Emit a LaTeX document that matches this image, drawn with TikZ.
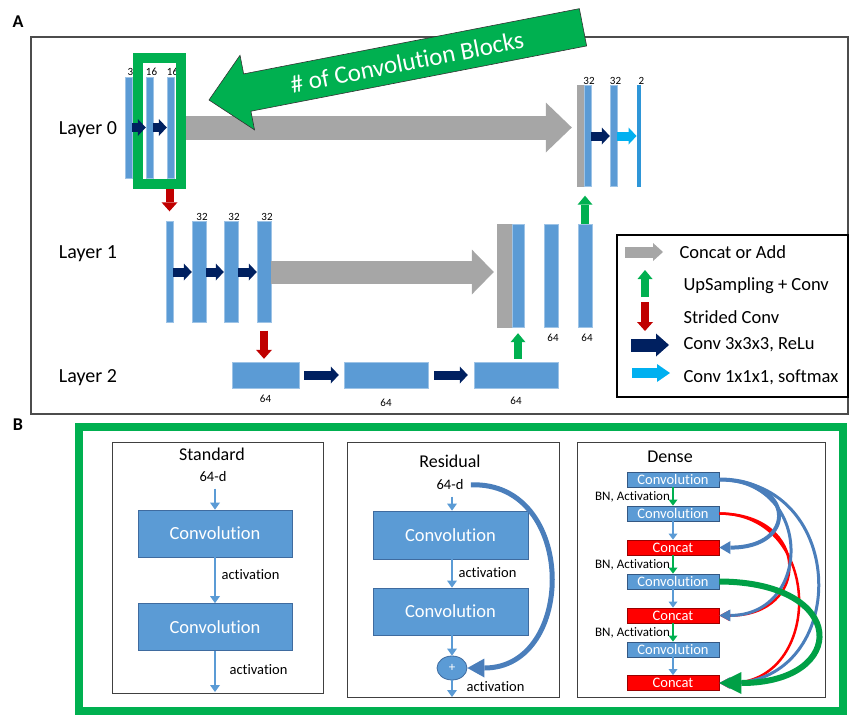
\documentclass[tikz,border=0pt]{standalone}
\usepackage{fontspec}
\setmainfont{Carlito}[Ligatures=NoCommon]
\usetikzlibrary{arrows.meta,shapes.geometric}

\definecolor{barblue}{HTML}{5B9BD5}
\definecolor{navy}{HTML}{002060}
\definecolor{skyarr}{HTML}{00B0F0}
\definecolor{catgray}{HTML}{A6A6A6}
\definecolor{upgreen}{HTML}{00B050}
\definecolor{downred}{HTML}{C00000}
\definecolor{catred}{HTML}{FF0000}
\definecolor{steel}{HTML}{4A7EBB}
\definecolor{outbar}{HTML}{2E96D8}
\definecolor{skipgreen}{HTML}{00A046}

\begin{document}
\begin{tikzpicture}[x=1pt,y=-1pt,
    blockarrow/.style n args={3}{line width=#1,-{Triangle[length=#2,width=#3,line width=0pt]}},
    bar/.style={fill=barblue,draw=barblue!60!white,line width=0.4pt,inner sep=0pt,minimum width=7pt,minimum height=101pt},
    catbar/.style={bar,fill=catgray,draw=catgray},
    num/.style={font=\fontsize{11}{12}\selectfont,inner sep=1pt},
    layer/.style={font=\fontsize{20}{23}\selectfont},
    panellab/.style={font=\bfseries\fontsize{18}{20}\selectfont},
    conv/.style={draw=navy,blockarrow={9pt}{8pt}{17pt}},
    soft/.style={draw=skyarr,blockarrow={9pt}{8pt}{17pt}},
    upconv/.style={draw=upgreen,blockarrow={8pt}{9pt}{15pt}},
    strided/.style={draw=downred,blockarrow={8pt}{9pt}{16pt}},
    legtext/.style={anchor=west,font=\fontsize{18.5}{21}\selectfont},
    blockbox/.style={draw=black!75,line width=1pt,inner sep=0pt},
    ttl/.style={font=\fontsize{18}{21}\selectfont},
    dimtxt/.style={font=\fontsize{14.5}{17}\selectfont},
    acttxt/.style={font=\fontsize{14.5}{17}\selectfont},
    convbig/.style={fill=barblue,draw=steel!85!black,line width=0.8pt,text=white,font=\fontsize{18.5}{21}\selectfont,inner sep=0pt,minimum width=155pt,minimum height=47pt},
    flow/.style={draw=barblue,blockarrow={2.5pt}{7pt}{10pt}},
    dconv/.style={fill=barblue,draw=steel!70!black,line width=0.8pt,text=white,font=\fontsize{14.5}{15}\selectfont,inner sep=0pt,minimum width=92pt,minimum height=15pt},
    dcat/.style={dconv,fill=catred,draw=downred!80!black},
    bntxt/.style={font=\fontsize{13}{15}\selectfont,inner sep=2pt},
    dflow/.style={draw=barblue,blockarrow={2.2pt}{6pt}{9pt}},
    dbn/.style={draw=upgreen,blockarrow={2.2pt}{6pt}{9pt}}
  ]
\useasboundingbox (0,0) rectangle (849,715);

% ---------------- A ----------------
\node[panellab] (labA) at (18,22) {A};
\draw[black!70,line width=1.2pt] (31,37) rectangle (848,414);

\node[layer] (lay0) at (88,130) {Layer 0};
\node[layer] (lay1) at (88,254) {Layer 1};
\node[layer] (lay2) at (88,378) {Layer 2};

% layer 0
\node[bar,label={[num,xshift=2pt]above:3}] (e0a) at (128.5,127.5) {};
\node[bar,label={[num,xshift=2pt]above:16}] (e0b) at (149.5,127.5) {};
\node[bar,label={[num,xshift=2pt]above:16}] (e0c) at (170.5,127.5) {};
\node[catbar] (d0g) at (580.5,136) {};
\node[bar,label={[num,xshift=1.5pt]above:32}] (d0a) at (587.5,136) {};
\node[bar,label={[num,xshift=2pt]above:32}] (d0b) at (613.5,136) {};
\node[bar,fill=outbar,draw=outbar,minimum width=3.5pt,label={[num,xshift=3pt]above:2}] (d0c) at (638.5,136) {};

% layer 1
\node[bar] (e1a) at (169.5,272) {};
\node[bar,minimum width=14pt,label={[num,xshift=3pt]above:32}] (e1b) at (199,272) {};
\node[bar,minimum width=14pt,label={[num,xshift=3pt]above:32}] (e1c) at (231,272) {};
\node[bar,minimum width=14pt,label={[num,xshift=3pt]above:32}] (e1d) at (264,272) {};
\node[catbar,minimum width=15pt,minimum height=103pt] (d1g) at (504.5,275.5) {};
\node[bar,minimum width=12pt,minimum height=103pt] (d1a) at (518,275.5) {};
\node[bar,minimum width=14pt,minimum height=103pt,label={[num,yshift=-6pt,xshift=2pt]below:64}] (d1b) at (551,275.5) {};
\node[bar,minimum width=14pt,minimum height=103pt,label={[num,yshift=-6pt,xshift=2pt]below:64}] (d1c) at (585,275.5) {};

% layer 2
\node[bar,minimum width=67pt,minimum height=26pt,label={[num,yshift=-6pt]below:64}] (e2a) at (265.5,375) {};
\node[bar,minimum width=84pt,minimum height=26pt,label={[num,yshift=-10pt]below:64}] (m2) at (386,375) {};
\node[bar,minimum width=84pt,minimum height=26pt,label={[num,yshift=-8pt]below:64}] (d2) at (516,375) {};

% arrows
\draw[conv] (d0a) -- (d0b);
\draw[soft] (d0b) -- (d0c);
\draw[conv] (e1a) -- (e1b);
\draw[conv] (e1b) -- (e1c);
\draw[conv] (e1c) -- (e1d);
\draw[conv,shorten <=5pt,shorten >=5pt] (e2a) -- (m2);
\draw[conv,shorten <=6pt,shorten >=6pt] (m2) -- (d2);

\node[minimum width=43pt,minimum height=126pt] (nblocks) at (159.5,121) {};
\draw[draw=catgray,blockarrow={24pt}{26pt}{50pt},shorten <=4pt,shorten >=5pt] (nblocks.east |- e0c.east) -- (d0g.west |- e0c.east);
\draw[draw=catgray,blockarrow={23pt}{22pt}{45pt},shorten >=3pt] (e1d.east) -- (e1d.east -| d1g.west);
\draw[strided,shorten >=10pt] (nblocks.south -| e1a.north) -- (e1a.north);
\draw[strided,shorten <=8pt,shorten >=3pt] (e1d.south) -- (e1d.south |- e2a.north);
\draw[upconv,shorten >=9pt] (d1c.north) -- (d1c.north |- d0a.south);
\draw[upconv,shorten <=3pt,shorten >=6pt] (d1a.south |- d2.north) -- (d1a.south);

% block highlight
\node[draw=upgreen,line width=10pt,minimum width=43pt,minimum height=126pt] (nframe) at (159.5,121) {};
\draw[conv] (e0a) -- (e0b);
\draw[conv] (e0b) -- (e0c);

% legend
\node[draw=black,line width=1.5pt,minimum width=231pt,minimum height=162pt] (legend) at (732.5,316) {};
\draw[draw=catgray,blockarrow={11pt}{10pt}{18pt}] (625,252) -- (663,252);
\node[legtext] (lg1) at (676,252) {Concat or Add};
\draw[upconv] (645,297) -- (645,270);
\node[legtext] (lg2) at (680,286) {UpSampling + Conv};
\draw[strided] (645,302) -- (645,331);
\node[legtext] (lg3) at (680,317) {Strided Conv};
\draw[draw=navy,blockarrow={13pt}{13pt}{23pt}] (631,345) -- (669,345);
\node[legtext] (lg4) at (680,345) {Conv 3x3x3, ReLu};
\draw[draw=skyarr,blockarrow={10pt}{13pt}{18pt}] (632,373) -- (670,373);
\node[legtext] (lg5) at (680,377) {Conv 1x1x1, softmax};

% number of blocks
\begin{scope}[shift={(209,100)},rotate=11]
  \filldraw[fill=upgreen,draw=black!80,line width=0.6pt] (0,0) -- (39,-38) -- (39,-19) -- (381,-19) -- (381,19) -- (39,19) -- (39,38) -- cycle;
\end{scope}
\node[text=white,font=\fontsize{25}{28}\selectfont,rotate=11] (nblk) at (407,62) {\# of Convolution Blocks};

% ---------------- B ----------------
\node[panellab] (labB) at (18,425) {B};
\node[draw=upgreen,line width=8pt,minimum width=764pt,minimum height=284pt] (panelB) at (461,569) {};

% standard
\node[blockbox,minimum width=211pt,minimum height=251pt] (std) at (217.5,567.5) {};
\node[ttl] (stdT) at (212,454) {Standard};
\node[dimtxt] (stdD) at (213,477) {64-d};
\node[convbig,minimum width=154pt] (stdC1) at (215,533.5) {Convolution};
\node[convbig,minimum width=154pt] (stdC2) at (215,627) {Convolution};
\coordinate (stdOut) at (215,692);
\draw[flow,shorten <=3pt] (stdD.south -| stdC1.north) -- (stdC1.north);
\draw[flow] (stdC1) -- node[acttxt,right,pos=0.37,xshift=2pt] {activation} (stdC2);
\draw[flow] (stdC2) -- node[acttxt,right,pos=0.46,xshift=10pt] {activation} (stdOut);

% residual
\node[blockbox,minimum width=212pt,minimum height=255pt] (res) at (453,569.5) {};
\node[ttl] (resT) at (450,461) {Residual};
\node[dimtxt] (resD) at (450,485) {64-d};
\node[convbig,minimum height=48pt] (resC1) at (450.5,535) {Convolution};
\node[convbig] (resC2) at (450.5,611.5) {Convolution};
\node[ellipse,fill=barblue,draw=steel!85!black,line width=0.8pt,minimum width=30pt,minimum height=24pt,inner sep=0pt,text=white,font=\fontsize{13}{14}\selectfont] (resP) at (452,668) {+};
\coordinate (resOut) at (452,697);
\draw[flow,shorten <=3pt] (resD.south -| resP) -- (resC1.north -| resP);
\draw[flow] (resC1.south -| resP) -- node[acttxt,right,pos=0.48,xshift=2pt] {activation} (resC2.north -| resP);
\draw[flow] (resC2.south -| resP) -- (resP);
\draw[flow] (resP) -- node[acttxt,right,pos=0.4,xshift=10pt] {activation} (resOut);
\draw[draw=steel,line width=5pt,-{Triangle[length=17pt,width=19pt,line width=0pt]},shorten <=4pt] (resD.east) .. controls (577,481) and (577,668) .. (resP.east);

% dense
\node[blockbox,minimum width=248pt,minimum height=255pt] (den) at (701,569.5) {};
\node[ttl] (denT) at (670,457) {Dense};
\node[dconv] (dc1) at (673,479.5) {Convolution};
\node[dconv] (dc2) at (673,513.5) {Convolution};
\node[dcat] (dk1) at (673,547.5) {Concat};
\node[dconv] (dc3) at (673,581.5) {Convolution};
\node[dcat] (dk2) at (673,615.5) {Concat};
\node[dconv] (dc4) at (673,649.5) {Convolution};
\node[dcat] (dk3) at (673,683) {Concat};
\draw[dbn] (dc1) -- node[bntxt,left] {BN, Activation} (dc2);
\draw[dflow] (dc2) -- (dk1);
\draw[dbn] (dk1) -- node[bntxt,left] {BN, Activation} (dc3);
\draw[dflow] (dc3) -- (dk2);
\draw[dbn] (dk2) -- node[bntxt,left] {BN, Activation} (dc4);
\draw[dflow] (dc4) -- (dk3);

% skip connections
\draw[draw=catred,line width=2.5pt,-{Triangle[length=10pt,width=11pt,line width=0pt]}] (dc2.east) .. controls (811,514) and (811,616) .. (dk2.east);
\draw[draw=catred,line width=2.5pt,-{Triangle[length=10pt,width=11pt,line width=0pt]}] (dc2.east) .. controls (824,514) and (824,684) .. (dk3.east);
\draw[draw=steel,line width=4pt,-{Triangle[length=11pt,width=13pt,line width=0pt]}] (dc1.east) .. controls (797,480) and (797,548) .. (dk1.east);
\draw[draw=steel,line width=3pt,-{Triangle[length=11pt,width=12pt,line width=0pt]}] (dc1.east) .. controls (813,480) and (813,615) .. (dk2.east);
\draw[draw=steel,line width=3pt,-{Triangle[length=11pt,width=12pt,line width=0pt]}] (dc1.east) .. controls (850,480) and (850,683) .. (dk3.east);
\draw[draw=skipgreen,line width=6pt,-{Triangle[length=22pt,width=22pt,line width=0pt]}] (dc3.east) .. controls (849,582) and (849,683) .. (dk3.east);
\end{tikzpicture}
\end{document}
